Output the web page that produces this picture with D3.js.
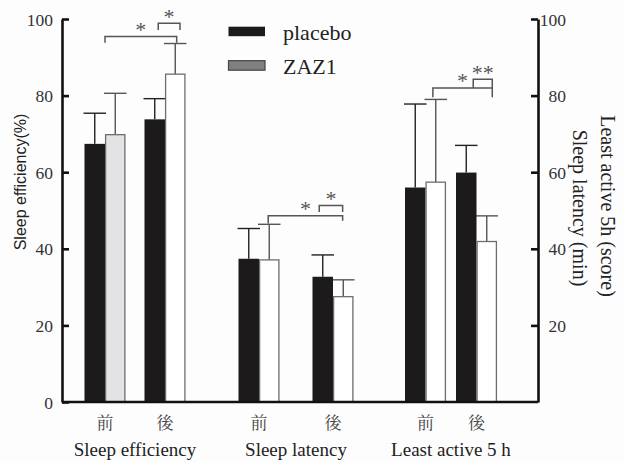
<!DOCTYPE html>
<html>
<head>
<meta charset="utf-8">
<script src="https://cdn.jsdelivr.net/npm/d3@7"></script>
<style>
  html, body { margin: 0; padding: 0; background: #fdfdfd; }
  svg { display: block; }
</style>
</head>
<body>
<svg id="chart" width="624" height="462"></svg>
<script>
// ---- data ----
const groups = ["Sleep efficiency", "Sleep latency", "Least active 5 h"];
const times = ["前", "後"];
const seriesNames = ["placebo", "ZAZ1"];
const placeboMean = [67.4, 73.8, 37.4, 32.7, 56.0, 59.9];
const placeboSD   = [8.0, 5.4, 7.9, 5.7, 21.8, 7.1];
const zaz1Mean    = [69.8, 85.6, 37.1, 27.5, 57.4, 41.9];
const zaz1SD      = [10.8, 8.0, 9.3, 4.4, 21.6, 6.7];
const yTicks = [0, 20, 40, 60, 80, 100];
const rightTicks = [20, 40, 60, 80, 100];
const leftTitle = "Sleep efficiency(%)";
const rightTitle1 = "Sleep latency (min)";
const rightTitle2 = "Least active 5h (score)";
// significance brackets
const sigFrom   = [[0, 0.0], [1, -0.33], [2, 0.45], [3, -0.67], [4, 0.36], [5, -0.16]];
const sigTo     = [[1, 0.57], [1, 0.73], [3, 0.47], [3, 0.47], [5, 0.77], [5, 0.77]];
const sigY      = [95.4, 98.9, 48.6, 51.3, 82.0, 84.3];
const sigLegL   = [93.8, 97.1, 46.6, 49.6, 79.6, 82.0];
const sigLegR   = [93.8, 97.1, 47.3, 49.6, 79.6, 82.0];
const sigLabel  = ["*", "*", "*", "*", "*", "**"];

// ---- layout ----
const svg = d3.select("#chart");
const mLeft = 62, mRight = 538, mTop = 19, mBottom = 402;
const y = d3.scaleLinear().domain([0, 100]).range([mBottom, mTop]);
const cats = d3.range(6);
const x = d3.scaleOrdinal().domain(cats).range([105, 165, 259, 333, 425.5, 476.5]);
const barW = 20.5;
const inner = d3.scaleBand().domain(seriesNames).range([-barW, barW]);
const serif = "'Liberation Serif', 'DejaVu Serif', serif";

const bars = [];
cats.forEach(i => {
  bars.push({cat: i, s: "placebo", v: placeboMean[i], sd: placeboSD[i]});
  bars.push({cat: i, s: "ZAZ1", v: zaz1Mean[i], sd: zaz1SD[i]});
});
const fillOf = d => d.s === "placebo" ? "#1c1a1b" : (d.cat === 0 ? "#e3e3e5" : "#ffffff");

// error bars (up only)
const eb = svg.append("g");
bars.forEach(d => {
  const cx = x(d.cat) + inner(d.s) + barW / 2;
  const col = d.s === "placebo" ? "#222" : "#555";
  eb.append("line").attr("x1", cx).attr("x2", cx)
    .attr("y1", y(d.v)).attr("y2", y(d.v + d.sd))
    .attr("stroke", col).attr("stroke-width", 1.4);
  eb.append("line").attr("x1", cx - barW / 2 - 1).attr("x2", cx + barW / 2 + 1)
    .attr("y1", y(d.v + d.sd)).attr("y2", y(d.v + d.sd))
    .attr("stroke", col).attr("stroke-width", 1.4);
});

svg.append("g").selectAll("rect").data(bars).join("rect")
  .attr("x", d => x(d.cat) + inner(d.s) + (d.s === "ZAZ1" ? 0.6 : 0))
  .attr("width", d => barW - (d.s === "ZAZ1" ? 1.2 : 0))
  .attr("y", d => y(d.v))
  .attr("height", d => y(0) - y(d.v))
  .attr("fill", fillOf)
  .attr("stroke", d => d.s === "placebo" ? "none" : "#6e6e6e")
  .attr("stroke-width", 1.3);

// significance brackets
const sg = svg.append("g");
sigY.forEach((v, k) => {
  const x1 = x(sigFrom[k][0]) + sigFrom[k][1] * barW;
  const x2 = x(sigTo[k][0]) + sigTo[k][1] * barW;
  sg.append("path")
    .attr("d", `M${x1},${y(sigLegL[k])}V${y(v)}H${x2}V${y(sigLegR[k])}`)
    .attr("fill", "none").attr("stroke", "#555").attr("stroke-width", 1.5);
  sg.append("text").attr("x", (x1 + x2) / 2).attr("y", y(v) + 0.5)
    .attr("text-anchor", "middle").attr("font-family", serif)
    .attr("font-size", 22).attr("fill", "#555").text(sigLabel[k]);
});

// axes
const axL = d3.axisLeft(y).tickValues(yTicks).tickSizeInner(-7).tickSizeOuter(0).tickPadding(9);
const gL = svg.append("g").attr("transform", `translate(${mLeft},0)`).call(axL);
const axR = d3.axisRight(y).tickValues(rightTicks).tickSizeInner(-7).tickSizeOuter(0).tickPadding(0);
const gR = svg.append("g").attr("transform", `translate(${mRight},0)`).call(axR);
[gL, gR].forEach(g => {
  g.select(".domain").attr("stroke", "#111").attr("stroke-width", 2.6);
  g.selectAll(".tick line").attr("stroke", "#111").attr("stroke-width", 2.6);
  g.selectAll(".tick text").attr("font-family", serif).attr("font-size", 17.5).attr("fill", "#333");
});
gL.selectAll(".tick text").attr("dy", "0.35em");
gR.selectAll(".tick text").attr("text-anchor", "end").attr("x", 28).attr("dy", "0.35em");

// baseline
svg.append("line").attr("x1", mLeft).attr("x2", mRight).attr("y1", mBottom).attr("y2", mBottom)
  .attr("stroke", "#111").attr("stroke-width", 2.6);

// x labels
cats.forEach(i => {
  svg.append("text").attr("x", x(i)).attr("y", 429)
    .attr("text-anchor", "middle")
    .attr("font-family", "'Noto Serif CJK JP','Noto Sans CJK JP', serif")
    .attr("font-size", 17).attr("fill", "#444").text(times[i % 2]);
});
groups.forEach((g, gi) => {
  const cx = (x(gi * 2) + x(gi * 2 + 1)) / 2;
  svg.append("text").attr("x", cx).attr("y", 456)
    .attr("text-anchor", "middle").attr("font-family", serif)
    .attr("font-size", 19).attr("fill", "#222").text(g);
});

// axis titles
svg.append("text").attr("transform", "translate(20,182) rotate(-90)")
  .attr("text-anchor", "middle").attr("dy", "0.35em")
  .attr("font-family", "'Liberation Sans', Arial, sans-serif")
  .attr("font-size", 16).attr("fill", "#222").text(leftTitle);
svg.append("text").attr("transform", "translate(580,208) rotate(90)")
  .attr("text-anchor", "middle").attr("dy", "0.35em")
  .attr("font-family", serif).attr("font-size", 20).attr("fill", "#222").text(rightTitle1);
svg.append("text").attr("transform", "translate(608,206) rotate(90)")
  .attr("text-anchor", "middle").attr("dy", "0.35em")
  .attr("font-family", serif).attr("font-size", 20).attr("fill", "#222").text(rightTitle2);

// legend
const leg = svg.append("g");
seriesNames.forEach((s, i) => {
  const ly = 26.7 + i * 34;
  leg.append("rect").attr("x", 228.5).attr("y", ly).attr("width", 36.5).attr("height", 9.5)
    .attr("fill", i === 0 ? "#1c1a1b" : "#808080")
    .attr("stroke", i === 0 ? "none" : "#444").attr("stroke-width", 1.2);
  leg.append("text").attr("x", 283).attr("y", ly + 13.5)
    .attr("font-family", serif).attr("font-size", 22).attr("fill", "#222").text(s);
});
</script>
</body>
</html>
